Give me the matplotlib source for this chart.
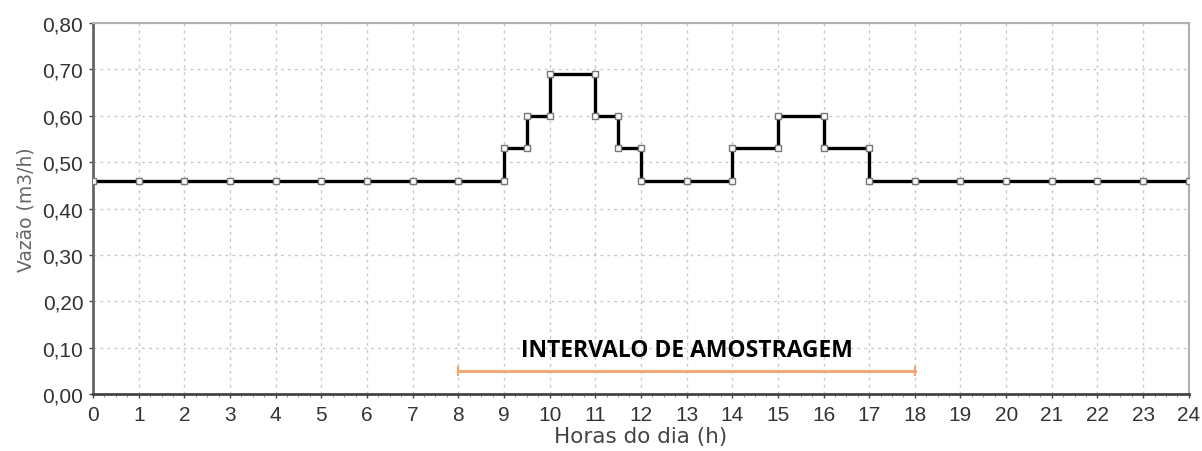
import numpy as np
import matplotlib.pyplot as plt
from matplotlib.ticker import FuncFormatter, MultipleLocator

# vazao ao longo do dia (pontos do grafico, degraus com x repetido)
horas = [0, 1, 2, 3, 4, 5, 6, 7, 8, 9, 9, 9.5, 9.5, 10, 10, 11, 11, 11.5, 11.5,
         12, 12, 13, 14, 14, 15, 15, 16, 16, 17, 17, 18, 19, 20, 21, 22, 23, 24]
vazao = [0.46, 0.46, 0.46, 0.46, 0.46, 0.46, 0.46, 0.46, 0.46, 0.46, 0.53, 0.53, 0.60,
         0.60, 0.69, 0.69, 0.60, 0.60, 0.53, 0.53, 0.46, 0.46, 0.46, 0.53, 0.53, 0.60,
         0.60, 0.53, 0.53, 0.46, 0.46, 0.46, 0.46, 0.46, 0.46, 0.46, 0.46]

intervalo = [8, 18]
intervalo_y = 0.05
texto_intervalo = 'INTERVALO DE AMOSTRAGEM'

plt.rcParams['font.family'] = ['Liberation Sans', 'DejaVu Sans']

fig = plt.figure(figsize=(12.02, 4.52), dpi=100)
ax = fig.add_axes([0.0774, 0.126, 0.9116, 0.821])

ax.plot(horas, vazao, color='black', lw=2.4, marker='s', markersize=5,
        markerfacecolor='white', markeredgecolor='#777777', markeredgewidth=1.0,
        zorder=3)

# intervalo de amostragem
ax.plot(intervalo, [intervalo_y, intervalo_y], color='#f5a26e', lw=2, zorder=2)
ax.plot([intervalo[0]] * 2, [intervalo_y - 0.009, intervalo_y + 0.009], color='#f5a26e', lw=1.5)
ax.plot([intervalo[1]] * 2, [intervalo_y - 0.009, intervalo_y + 0.009], color='#f5a26e', lw=1.5)
ax.text(np.mean(intervalo), 0.095, texto_intervalo, ha='center', va='center',
        fontsize=16.5, fontweight='bold', family=['Open Sans', 'Lato', 'DejaVu Sans'],
        color='black')

ax.set_xlim(0, 24)
ax.set_ylim(0, 0.8)
ax.xaxis.set_major_locator(MultipleLocator(1))
ax.xaxis.set_minor_locator(MultipleLocator(0.25))
ax.yaxis.set_major_locator(MultipleLocator(0.1))
ax.yaxis.set_major_formatter(FuncFormatter(lambda v, p: f'{v:.2f}'.replace('.', ',')))

ax.grid(True, which='major', color='#c8c8c8', ls=(0, (2, 3)), lw=1)
ax.set_axisbelow(True)

ax.tick_params(axis='both', which='major', labelsize=15, colors='#444444', length=3, width=1)
ax.tick_params(axis='x', which='major', pad=5)
ax.tick_params(axis='y', which='major', pad=4)
ax.tick_params(axis='x', which='minor', length=2, color='#888888')
for lab in ax.get_xticklabels() + ax.get_yticklabels():
    lab.set_color('#333333')

ax.spines['left'].set_color('#666666')
ax.spines['left'].set_linewidth(2)
ax.spines['bottom'].set_color('#444444')
ax.spines['bottom'].set_linewidth(2)
ax.spines['top'].set_color('#b0b0b0')
ax.spines['top'].set_linewidth(1.5)
ax.spines['right'].set_color('#b0b0b0')
ax.spines['right'].set_linewidth(1.5)

ax.set_xlabel('Horas do dia (h)', fontsize=15.5, family='DejaVu Sans', color='#444444', labelpad=1)
ax.set_ylabel('Vazão (m3/h)', fontsize=13.5, family='DejaVu Sans', color='#666666', labelpad=5)

fig.savefig('out.png', dpi=100)
